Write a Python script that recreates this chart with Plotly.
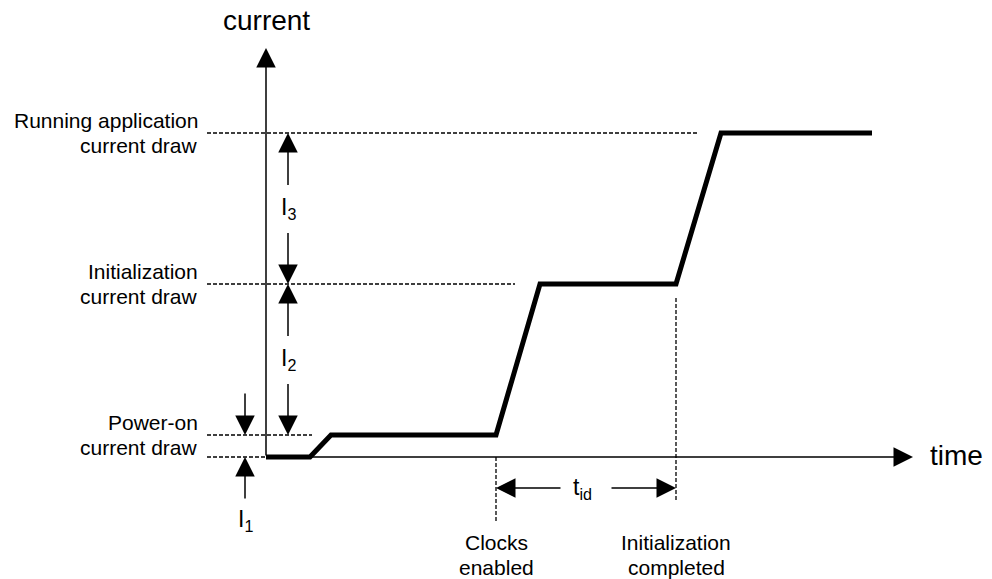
import plotly.graph_objects as go

# waveform: time (arbitrary units) vs current (arbitrary units)
t_wave = [0, 4.4, 6.5, 23.0, 27.4, 41.0, 45.5, 60.6]
i_wave = [0, 0, 2.2, 2.2, 17.3, 17.3, 32.4, 32.4]

# current levels and their labels
level_names = ["Power-on<br>current draw", "Initialization<br>current draw",
               "Running application<br>current draw"]
level_values = [2.2, 17.3, 32.4]

# step labels between levels
step_names = ["I<sub>1</sub>", "I<sub>2</sub>", "I<sub>3</sub>"]

# events on the time axis
event_names = ["Clocks<br>enabled", "Initialization<br>completed"]
event_times = [23.0, 41.0]
delay_name = "t<sub>id</sub>"

FONT = "Liberation Sans, Arial, sans-serif"
BLACK = "#000000"

fig = go.Figure()

# main waveform
fig.add_trace(go.Scatter(
    x=t_wave, y=i_wave, mode="lines",
    line=dict(color=BLACK, width=5),
    hoverinfo="skip", showlegend=False,
))

shapes = []
annotations = []

def arrow(x, y, ax, ay, width=1.5, size=2.6):
    annotations.append(dict(
        x=x, y=y, ax=ax, ay=ay, xref="x", yref="y", axref="x", ayref="y",
        text="", showarrow=True, arrowhead=2, arrowsize=size,
        arrowwidth=width, arrowcolor=BLACK, standoff=0,
    ))

def dashed(x0, y0, x1, y1):
    shapes.append(dict(type="line", x0=x0, y0=y0, x1=x1, y1=y1,
                       xref="x", yref="y",
                       line=dict(color=BLACK, width=1.3, dash="4px,2px")))

def label(x, y, text, size=21, xanchor="center", yanchor="middle", gap=25):
    # multi-line labels are placed line by line for tighter spacing
    lines = text.split("<br>")
    n = len(lines)
    for k, line in enumerate(lines):
        annotations.append(dict(
            x=x, y=y, xref="x", yref="y", text=line, showarrow=False,
            xanchor=xanchor, yanchor=yanchor,
            yshift=((n - 1) / 2 - k) * gap,
            font=dict(family=FONT, size=size, color=BLACK),
        ))

# axes drawn as arrows
arrow(0, 40.9, 0, 0)
arrow(64.7, 0, 0, 0)
label(0, 43.7, "current", size=28)
label(66.2, 0.2, "time", size=28, xanchor="left")

# dashed level guides and labels
level_ends = [4.6, 24.9, 43.2]
dashed(-5.9, 0, 0, 0)
for name, lv, end in zip(level_names, level_values, level_ends):
    dashed(-5.9, lv, end, lv)
    label(-6.6, lv, name, xanchor="right")

# step arrows: I1 outside, I2 and I3 inside
x_left, x_in = -2.1, 2.2
arrow(x_left, level_values[0], x_left, 6.5)
arrow(x_left, 0, x_left, -4.3)
label(x_left, -6.3, step_names[0], size=23)

lows = [level_values[0], level_values[1]]
highs = [level_values[1], level_values[2]]
for name, lo, hi in zip(step_names[1:], lows, highs):
    mid = (lo + hi) / 2
    arrow(x_in, hi, x_in, mid + 2.2)
    arrow(x_in, lo, x_in, mid - 2.3)
    label(x_in, mid, name, size=23)

# event markers
event_spans = [(0, -6.5), (15.9, -4.3)]
for name, te, (y0, y1) in zip(event_names, event_times, event_spans):
    dashed(te, y0, te, y1)
    label(te, -9.8, name)

# delay arrows between events
y_d = -3.1
mid_t = (event_times[0] + event_times[1]) / 2
arrow(event_times[0], y_d, mid_t - 2.4, y_d)
arrow(event_times[1], y_d, mid_t + 2.4, y_d)
label(mid_t - 0.4, y_d, delay_name, size=23)

fig.update_layout(
    width=992, height=579,
    margin=dict(l=0, r=0, t=0, b=0),
    paper_bgcolor="white", plot_bgcolor="white",
    xaxis=dict(range=[-26.6, 72.6], visible=False, fixedrange=True),
    yaxis=dict(range=[-12.2, 45.7], visible=False, fixedrange=True),
    shapes=shapes, annotations=annotations,
    showlegend=False,
)

fig.write_html("out.html", config={"displayModeBar": False},
               post_script="document.body.style.margin = '0';")
